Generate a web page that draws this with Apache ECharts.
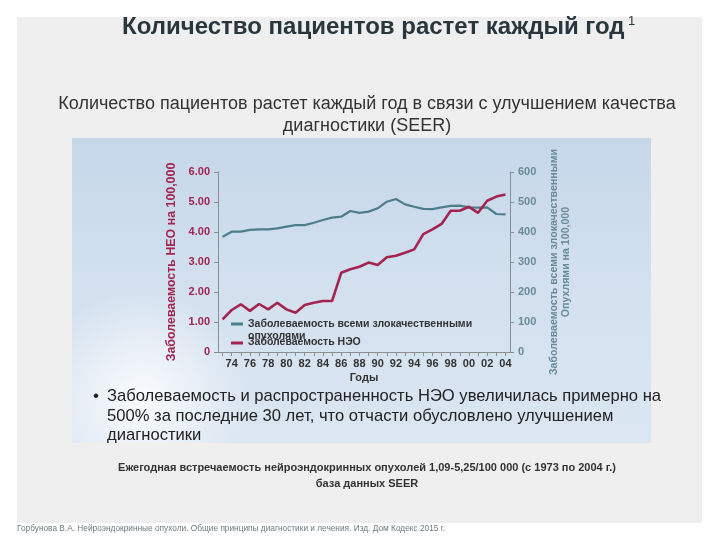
<!DOCTYPE html>
<html><head><meta charset="utf-8">
<script src="https://cdn.jsdelivr.net/npm/echarts@6/dist/echarts.min.js"></script>
<style>html,body{margin:0;padding:0;background:#fff}#c{width:720px;height:540px}</style>
</head><body><div id="c"></div>
<script>
const years = [1973,1974,1975,1976,1977,1978,1979,1980,1981,1982,1983,1984,1985,1986,1987,1988,1989,1990,1991,1992,1993,1994,1995,1996,1997,1998,1999,2000,2001,2002,2003,2004];
const neoIncidence = [1.09,1.40,1.59,1.37,1.60,1.42,1.64,1.42,1.31,1.57,1.64,1.70,1.70,2.64,2.76,2.84,2.98,2.90,3.16,3.21,3.31,3.42,3.93,4.09,4.27,4.71,4.71,4.84,4.64,5.04,5.18,5.25];
const allMalignant = [384,401,401,407,409,409,412,418,423,423,431,440,448,451,470,464,468,479,501,510,492,484,477,476,482,487,488,482,481,482,460,459];
const leftTicks = [0,1,2,3,4,5,6];
const rightTicks = [0,100,200,300,400,500,600];
const seriesNames = ['Заболеваемость всеми злокачественными опухолями','Заболеваемость НЭО'];

const RED = '#a2244f', BLUE = '#4c7e8b', RLAB = '#6a8a99';
const FF = '"Liberation Sans", Arial, sans-serif';
const chart = echarts.init(document.getElementById('c'), null, {renderer:'canvas'});

const neoData = neoIncidence.map((v,i)=> i===neoIncidence.length-1 ?
  {value:v, label:{show:true, position:'top', distance:3, offset:[-7,0], formatter:'{c}', color:RED, fontWeight:'bold', fontSize:11, fontFamily:FF}} : v);

chart.setOption({
  animation:false,
  backgroundColor:'#ffffff',
  graphic:[
    {type:'rect', z:-10, shape:{x:17,y:17,width:685,height:506}, style:{fill:'#efefef'}},
    {type:'rect', z:-9, shape:{x:72,y:138,width:579,height:305},
     style:{fill:{type:'linear',x:0,y:0,x2:0,y2:1,colorStops:[
       {offset:0,color:'#c6d7ea'},{offset:0.5,color:'#d3e1ef'},{offset:1,color:'#dbe6f2'}]}}},
    {type:'rect', z:-8, shape:{x:72,y:138,width:579,height:305},
     style:{fill:{type:'radial',x:0.12,y:0.85,r:0.35,colorStops:[
       {offset:0,color:'rgba(255,255,255,0.85)'},{offset:1,color:'rgba(255,255,255,0)'}]}}},
    {type:'text', style:{x:122,y:27,text:'Количество пациентов растет каждый год',textVerticalAlign:'middle',font:'bold 24px '+FF,fill:'#28363e'}},
    {type:'text', style:{x:628,y:21,text:'1',textVerticalAlign:'middle',font:'13px '+FF,fill:'#28363e'}},
    {type:'text', style:{x:367,y:104,text:'Количество пациентов растет каждый год в связи с улучшением качества',textAlign:'center',textVerticalAlign:'middle',font:'18px '+FF,fill:'#333'}},
    {type:'text', style:{x:367,y:126,text:'диагностики (SEER)',textAlign:'center',textVerticalAlign:'middle',font:'18px '+FF,fill:'#333'}},
    {type:'text', x:172, y:262, rotation:Math.PI/2, style:{x:0,y:0,text:'Заболеваемость НЕО на 100,000',textAlign:'center',textVerticalAlign:'middle',font:'bold 12.4px '+FF,fill:RED}},
    {type:'text', x:554, y:262, rotation:Math.PI/2, style:{x:0,y:0,text:'Заболеваемость всеми злокачественными',textAlign:'center',textVerticalAlign:'middle',font:'bold 10.6px '+FF,fill:RLAB}},
    {type:'text', x:566, y:262, rotation:Math.PI/2, style:{x:0,y:0,text:'Опухлями на 100,000',textAlign:'center',textVerticalAlign:'middle',font:'bold 10.6px '+FF,fill:RLAB}},
    {type:'line', shape:{x1:231,y1:324,x2:243,y2:324}, style:{stroke:BLUE,lineWidth:3}},
    {type:'text', style:{x:248,y:324,text:seriesNames[0].replace(' опухолями',''),textVerticalAlign:'middle',font:'bold 10.5px '+FF,fill:'#333'}},
    {type:'text', style:{x:248,y:336,text:'опухолями',textVerticalAlign:'middle',font:'bold 10.5px '+FF,fill:'#333'}},
    {type:'line', shape:{x1:231,y1:343,x2:243,y2:343}, style:{stroke:RED,lineWidth:3}},
    {type:'text', style:{x:248,y:342,text:seriesNames[1],textVerticalAlign:'middle',font:'bold 10.5px '+FF,fill:'#333'}},
    {type:'text', style:{x:93,y:396,text:'•',textVerticalAlign:'middle',font:'17px '+FF,fill:'#222'}},
    {type:'text', style:{x:107,y:396,text:'Заболеваемость и распространенность НЭО увеличилась примерно на',textVerticalAlign:'middle',font:'16.6px '+FF,fill:'#222'}},
    {type:'text', style:{x:107,y:416,text:'500% за последние 30 лет, что отчасти обусловлено улучшением',textVerticalAlign:'middle',font:'16.6px '+FF,fill:'#222'}},
    {type:'text', style:{x:107,y:435,text:'диагностики',textVerticalAlign:'middle',font:'16.6px '+FF,fill:'#222'}},
    {type:'text', style:{x:367,y:468,text:'Ежегодная встречаемость нейроэндокринных опухолей 1,09-5,25/100 000 (с 1973 по 2004 г.)',textAlign:'center',textVerticalAlign:'middle',font:'bold 11px '+FF,fill:'#333'}},
    {type:'text', style:{x:367,y:484,text:'база данных SEER',textAlign:'center',textVerticalAlign:'middle',font:'bold 11px '+FF,fill:'#333'}},
    {type:'text', style:{x:17,y:529,text:'Горбунова В.А. Нейроэндокринные опухоли. Общие принципы диагностики и лечения. Изд. Дом Кодекс 2015 г.',textVerticalAlign:'middle',font:'8.3px '+FF,fill:'#6f7a82'}}
  ],
  grid:{left:218, right:210, top:172, bottom:188, containLabel:false},
  xAxis:{type:'category', data:years, boundaryGap:true,
    name:'Годы', nameLocation:'middle', nameGap:20,
    nameTextStyle:{fontWeight:'bold',fontSize:11,fontFamily:FF,color:'#333'},
    axisLine:{lineStyle:{color:'#8a8f94',width:1}},
    axisTick:{show:true, alignWithLabel:true, interval:0, length:4, lineStyle:{color:'#8a8f94'}},
    axisLabel:{interval:(i,v)=> (+v)%2===0, formatter:v=>String(v).slice(2), fontWeight:'bold', fontSize:11, fontFamily:FF, color:'#333', margin:6}},
  yAxis:[
    {type:'value', min:leftTicks[0], max:leftTicks[leftTicks.length-1], interval:1, position:'left',
     axisLine:{show:true,lineStyle:{color:'#8a8f94'}}, axisTick:{show:true,length:4,lineStyle:{color:'#8a8f94'}}, splitLine:{show:false},
     axisLabel:{formatter:v=> v===0?'0':v.toFixed(2), color:RED, fontWeight:'bold', fontSize:11, fontFamily:FF, margin:8}},
    {type:'value', min:rightTicks[0], max:rightTicks[rightTicks.length-1], interval:100, position:'right',
     axisLine:{show:true,lineStyle:{color:'#8a8f94'}}, axisTick:{show:true,length:4,lineStyle:{color:'#8a8f94'}}, splitLine:{show:false},
     axisLabel:{color:RLAB, fontWeight:'bold', fontSize:11, fontFamily:FF, margin:8}}
  ],
  series:[
    {name:seriesNames[0], type:'line', yAxisIndex:1, data:allMalignant, symbol:'none', lineStyle:{color:BLUE,width:2.2}, itemStyle:{color:BLUE}},
    {name:seriesNames[1], type:'line', yAxisIndex:0, data:neoData, symbol:'none', lineStyle:{color:RED,width:2.6}, itemStyle:{color:RED}, z:3}
  ]
});
</script></body></html>
